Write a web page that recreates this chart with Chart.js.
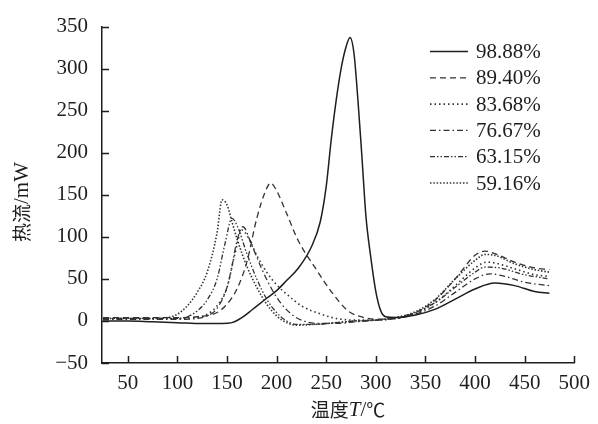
<!DOCTYPE html>
<html>
<head>
<meta charset="utf-8">
<script src="https://cdn.jsdelivr.net/npm/chart.js@4/dist/chart.umd.min.js"></script>
<style>
  html, body { margin: 0; padding: 0; background: #fff; }
  canvas { display: block; }
</style>
</head>
<body>
<canvas id="dsc" width="598" height="424"></canvas>
<script>
// 温度 (°C) 和 热流 (mW)，按样品纯度分开
const t9888 = [25, 50, 75, 100, 125, 145, 155, 165, 175, 190, 200, 210, 222, 235, 244, 250, 255, 260, 265, 270, 274, 278, 282, 286, 290, 295, 300, 305, 310, 320, 340, 360, 380, 400, 420, 440, 460, 475];
const h9888 = [0, 0, -1, -2, -3, -3, -2, 4, 13, 27, 36, 48, 63, 88, 118, 160, 215, 262, 300, 326, 337, 318, 262, 195, 125, 75, 35, 12, 5, 4, 7, 14, 26, 38, 45, 42, 35, 33];

const t8940 = [25, 50, 75, 100, 120, 140, 150, 160, 170, 180, 189, 194, 200, 210, 222, 239, 255, 272, 285, 300, 320, 340, 360, 380, 400, 410, 420, 440, 460, 475];
const h8940 = [4, 4, 4, 4, 5, 10, 20, 38, 70, 122, 155, 164, 155, 128, 95, 63, 35, 12, 5, 2, 3, 10, 25, 50, 78, 83, 80, 70, 63, 61];

const t8368 = [25, 50, 75, 100, 120, 130, 140, 150, 158, 165, 172, 180, 190, 200, 212, 225, 245, 260, 280, 300, 320, 340, 360, 380, 400, 412, 420, 440, 460, 475];
const h8368 = [3, 3, 3, 3, 4, 8, 18, 40, 80, 108, 98, 78, 58, 43, 30, 18, 8, 3, 1, 1, 3, 9, 22, 42, 63, 70, 69, 62, 55, 53];

const t7667 = [25, 50, 75, 100, 120, 130, 140, 150, 155, 160, 166, 175, 185, 195, 205, 215, 225, 240, 260, 280, 300, 320, 340, 360, 380, 400, 415, 430, 450, 475];
const h7667 = [2, 2, 2, 2, 3, 6, 15, 40, 65, 95, 112, 90, 62, 38, 20, 8, 1, -3, -3, -1, 1, 3, 8, 18, 34, 50, 56, 53, 46, 42];

const t6315 = [25, 50, 75, 100, 110, 120, 130, 140, 148, 155, 160, 170, 180, 190, 200, 210, 220, 240, 260, 280, 300, 320, 340, 360, 380, 400, 410, 425, 450, 475];
const h6315 = [3, 3, 3, 3, 5, 12, 25, 50, 92, 122, 114, 80, 50, 26, 10, 0, -4, -4, -2, 0, 1, 4, 10, 22, 40, 58, 64, 63, 55, 50];

const t5916 = [25, 50, 75, 90, 100, 110, 120, 130, 140, 145, 150, 155, 160, 170, 180, 190, 200, 210, 220, 240, 260, 280, 300, 320, 340, 360, 380, 400, 410, 420, 440, 460, 475];
const h5916 = [3, 3, 3, 4, 8, 18, 34, 58, 105, 144, 138, 118, 98, 65, 40, 20, 6, -2, -5, -4, -2, 0, 1, 4, 11, 26, 50, 72, 79, 78, 68, 61, 58];

const seriesLabels = ['98.88%', '89.40%', '83.68%', '76.67%', '63.15%', '59.16%'];
const xTicks = [50, 100, 150, 200, 250, 300, 350, 400, 450, 500];
const yTicks = [-50, 0, 50, 100, 150, 200, 250, 300, 350];

const SERIF = "'Liberation Serif', 'DejaVu Serif', serif";
const CJK = "'Noto Sans CJK SC', sans-serif";

function pts(t, h) {
    return t.map((x, i) => ({ x: x, y: h[i] }));
}

const styles = [
    { dash: [], width: 1.5 },
    { dash: [6, 4], width: 1.3 },
    { dash: [1.5, 3], width: 1.6 },
    { dash: [6, 3, 1.5, 3], width: 1.3 },
    { dash: [5, 2, 1.5, 2, 1.5, 2], width: 1.3 },
    { dash: [1.5, 1.8], width: 1.6 }
];
const allData = [pts(t9888, h9888), pts(t8940, h8940), pts(t8368, h8368),
                 pts(t7667, h7667), pts(t6315, h6315), pts(t5916, h5916)];

const datasets = seriesLabels.map((lab, i) => ({
    label: lab,
    data: allData[i],
    borderColor: i === 0 ? '#1e1e1e' : '#333',
    borderWidth: styles[i].width,
    borderDash: styles[i].dash,
    pointRadius: 0,
    fill: false,
    cubicInterpolationMode: 'monotone'
}));

// 内向刻度、坐标轴标题和图例
const paperDecor = {
    id: 'paperDecor',
    afterDraw(chart) {
        const ctx = chart.ctx;
        const xs = chart.scales.x, ys = chart.scales.y;
        const area = chart.chartArea;
        ctx.save();
        ctx.strokeStyle = '#1e1e1e';
        ctx.lineWidth = 1.5;
        ctx.setLineDash([]);
        ctx.beginPath();
        xTicks.forEach(v => {
            const px = Math.round(xs.getPixelForValue(v)) + 0.5;
            ctx.moveTo(px, area.bottom);
            ctx.lineTo(px, area.bottom - 7);
        });
        yTicks.forEach(v => {
            const py = Math.round(ys.getPixelForValue(v)) + 0.5;
            ctx.moveTo(area.left, py);
            ctx.lineTo(area.left + 7, py);
        });
        ctx.stroke();

        // x 轴标题：温度T/℃
        ctx.fillStyle = '#1e1e1e';
        ctx.textBaseline = 'middle';
        const parts = [
            { s: '温度', f: '19px ' + CJK },
            { s: 'T', f: 'italic 21px ' + SERIF },
            { s: '/', f: '21px ' + SERIF },
            { s: '℃', f: '19px ' + CJK }
        ];
        let total = 0;
        parts.forEach(p => { ctx.font = p.f; p.w = ctx.measureText(p.s).width; total += p.w; });
        let cx = 348 - total / 2;
        ctx.textAlign = 'left';
        parts.forEach(p => { ctx.font = p.f; ctx.fillText(p.s, cx, 410); cx += p.w; });

        // y 轴标题：热流/mW
        ctx.save();
        ctx.translate(22, 202);
        ctx.rotate(-Math.PI / 2);
        const yparts = [
            { s: '热流', f: '19px ' + CJK },
            { s: '/mW', f: '21px ' + SERIF }
        ];
        total = 0;
        yparts.forEach(p => { ctx.font = p.f; p.w = ctx.measureText(p.s).width; total += p.w; });
        cx = -total / 2;
        yparts.forEach(p => { ctx.font = p.f; ctx.fillText(p.s, cx, 0); cx += p.w; });
        ctx.restore();

        // 图例
        chart.data.datasets.forEach((ds, i) => {
            const y = 51.5 + i * 26.3;
            ctx.strokeStyle = ds.borderColor;
            ctx.lineWidth = ds.borderWidth;
            ctx.setLineDash(ds.borderDash);
            ctx.beginPath();
            ctx.moveTo(430, y);
            ctx.lineTo(468, y);
            ctx.stroke();
            ctx.setLineDash([]);
            ctx.font = '21px ' + SERIF;
            ctx.fillStyle = '#1e1e1e';
            ctx.textAlign = 'left';
            ctx.fillText(ds.label, 476, y + 1);
        });
        ctx.restore();
    }
};

new Chart(document.getElementById('dsc').getContext('2d'), {
    type: 'line',
    data: { datasets: datasets },
    options: {
        responsive: false,
        animation: false,
        devicePixelRatio: 1,
        layout: { padding: { top: 24, right: 20, left: 0, bottom: 0 } },
        plugins: {
            legend: { display: false },
            tooltip: { enabled: false }
        },
        scales: {
            x: {
                type: 'linear',
                min: 24,
                max: 500,
                afterBuildTicks: s => { s.ticks = xTicks.map(v => ({ value: v })); },
                afterFit: s => { s.height = 61; },
                grid: { display: false, drawTicks: false },
                border: { display: true, color: '#1e1e1e', width: 1.5 },
                ticks: {
                    padding: 8,
                    color: '#1e1e1e',
                    maxRotation: 0,
                    font: { family: SERIF, size: 21 }
                }
            },
            y: {
                min: -50,
                max: 350,
                afterBuildTicks: s => { s.ticks = yTicks.map(v => ({ value: v })); },
                afterFit: s => { s.width = 102; },
                grid: { display: false, drawTicks: false },
                border: { display: true, color: '#1e1e1e', width: 1.5 },
                ticks: {
                    padding: 14,
                    color: '#1e1e1e',
                    font: { family: SERIF, size: 21 },
                    callback: v => (v < 0 ? '\u221250' : v)
                }
            }
        }
    },
    plugins: [paperDecor]
});
</script>
</body>
</html>
